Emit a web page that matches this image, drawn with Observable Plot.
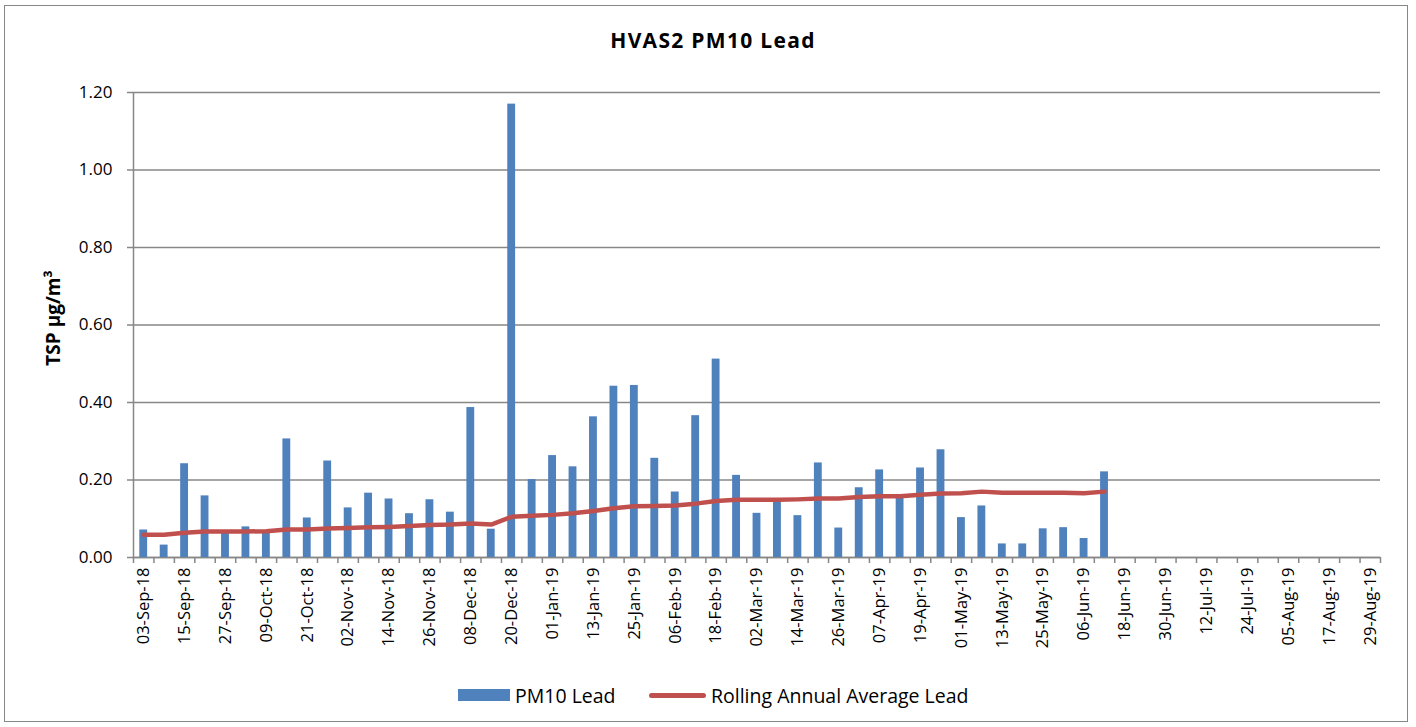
<!DOCTYPE html>
<html><head><meta charset="utf-8">
<script src="https://cdn.jsdelivr.net/npm/d3@7"></script>
<script src="https://cdn.jsdelivr.net/npm/@observablehq/plot@0.6"></script>
<style>
body{margin:0;background:#fff;font-family:"Open Sans",Lato,sans-serif;color:#000;}
#wrap{position:relative;width:1416px;height:727px;overflow:hidden;}
#frame{position:absolute;left:4px;top:5px;width:1402px;height:715px;border:1.5px solid #878787;}
#title{position:absolute;left:0;width:1426px;top:26px;text-align:center;font-weight:bold;font-size:21px;letter-spacing:1.3px;}
#chart{position:absolute;left:0;top:0;}
#ytitle{position:absolute;left:53px;top:318px;transform:translate(-50%,-50%) rotate(-90deg);font-weight:bold;font-size:19px;white-space:nowrap;}
.leg{position:absolute;top:683px;display:flex;align-items:center;font-size:19.5px;white-space:nowrap;height:24px;}
.sw-bar{width:52px;height:12px;background:#4F81BD;margin-right:5px;}
.sw-line{width:57px;height:5px;border-radius:3px;background:#C0504D;margin-right:5px;}
</style></head>
<body>
<div id="wrap">
  <div id="frame"></div>
  <div id="title">HVAS2 PM10 Lead</div>
  <div id="ytitle">TSP µg/m³</div>
  <div id="chart"></div>
  <div class="leg" style="left:458px"><span class="sw-bar"></span><span>PM10 Lead</span></div>
  <div class="leg" style="left:649px"><span class="sw-line"></span><span>Rolling Annual Average Lead</span></div>
</div>
<script>
const dates = ["03-Sep-18","09-Sep-18","15-Sep-18","21-Sep-18","27-Sep-18","03-Oct-18","09-Oct-18","15-Oct-18","21-Oct-18","27-Oct-18",
"02-Nov-18","08-Nov-18","14-Nov-18","20-Nov-18","26-Nov-18","02-Dec-18","08-Dec-18","14-Dec-18","20-Dec-18","26-Dec-18",
"01-Jan-19","07-Jan-19","13-Jan-19","19-Jan-19","25-Jan-19","31-Jan-19","06-Feb-19","12-Feb-19","18-Feb-19","24-Feb-19",
"02-Mar-19","08-Mar-19","14-Mar-19","20-Mar-19","26-Mar-19","01-Apr-19","07-Apr-19","13-Apr-19","19-Apr-19","25-Apr-19",
"01-May-19","07-May-19","13-May-19","19-May-19","25-May-19","31-May-19","06-Jun-19","12-Jun-19"];
const pm10Lead = [0.071,0.032,0.242,0.159,0.062,0.079,0.064,0.306,0.102,0.249,
0.128,0.166,0.151,0.113,0.149,0.117,0.387,0.073,1.170,0.201,
0.263,0.234,0.363,0.442,0.444,0.256,0.169,0.366,0.512,0.212,
0.114,0.145,0.108,0.244,0.076,0.180,0.226,0.155,0.231,0.278,
0.103,0.133,0.035,0.035,0.074,0.077,0.049,0.221];
const rollingAvg = [0.059,0.059,0.064,0.067,0.067,0.067,0.068,0.072,0.072,0.075,
0.076,0.078,0.079,0.081,0.084,0.085,0.088,0.085,0.105,0.108,
0.110,0.114,0.120,0.127,0.132,0.133,0.134,0.139,0.146,0.149,
0.149,0.149,0.150,0.152,0.152,0.156,0.158,0.158,0.162,0.165,
0.166,0.170,0.167,0.167,0.167,0.167,0.166,0.170];
const tickLabels = ["03-Sep-18","15-Sep-18","27-Sep-18","09-Oct-18","21-Oct-18","02-Nov-18","14-Nov-18","26-Nov-18","08-Dec-18","20-Dec-18",
"01-Jan-19","13-Jan-19","25-Jan-19","06-Feb-19","18-Feb-19","02-Mar-19","14-Mar-19","26-Mar-19","07-Apr-19","19-Apr-19",
"01-May-19","13-May-19","25-May-19","06-Jun-19","18-Jun-19","30-Jun-19","12-Jul-19","24-Jul-19","05-Aug-19","17-Aug-19","29-Aug-19"];
const yTicks = [0, 0.2, 0.4, 0.6, 0.8, 1.0, 1.2];

const parse = d3.utcParse("%d-%b-%y");
const fmt = d3.utcFormat("%d-%b-%y");
const labelDates = tickLabels.map(parse);
const edges = labelDates.flatMap(d => [d3.utcDay.offset(d, -3), d3.utcDay.offset(d, 3)]);
const data = dates.map((d, i) => ({date: parse(d), pm10: pm10Lead[i], avg: rollingAvg[i]}));
const grey = "#878787";
const font = "'Open Sans', Lato, sans-serif";

const chart = Plot.plot({
  width: 1416, height: 680,
  marginTop: 92, marginBottom: 123, marginLeft: 133, marginRight: 36,
  style: {fontFamily: font, fontSize: "15px", color: "#000", background: "transparent", overflow: "visible"},
  x: {type: "utc", domain: [edges[0], edges[edges.length - 1]]},
  y: {domain: [0, 1.2]},
  marks: [
    Plot.gridY(yTicks, {stroke: grey, strokeOpacity: 1, strokeWidth: 1.5}),
    Plot.ruleX([edges[0]], {stroke: grey, strokeWidth: 1.5}),
    Plot.ruleY([0], {stroke: grey, strokeWidth: 1.5}),
    Plot.axisY(yTicks, {tickFormat: d3.format(".2f"), tickSize: 6, tickPadding: 15, stroke: grey, strokeWidth: 1.5, label: null, fontSize: 17}),
    Plot.axisX(edges, {tickSize: 6, tickFormat: () => "", stroke: grey, strokeWidth: 1.5, label: null}),
    Plot.axisX(labelDates, {tickSize: 0, tickRotate: -90, tickFormat: fmt, tickPadding: 10, label: null, fontSize: 16.5}),
    Plot.rectY(data, {x1: d => d3.utcDay.offset(d.date, -3), x2: d => d3.utcDay.offset(d.date, 3), y1: 0, y2: "pm10", fill: "#4F81BD", insetLeft: 6.3, insetRight: 6.3}),
    Plot.lineY(data, {x: "date", y: "avg", stroke: "#C0504D", strokeWidth: 4.5, strokeLinecap: "round", strokeLinejoin: "round"})
  ]
});
document.getElementById("chart").appendChild(chart);
</script>
</body></html>
